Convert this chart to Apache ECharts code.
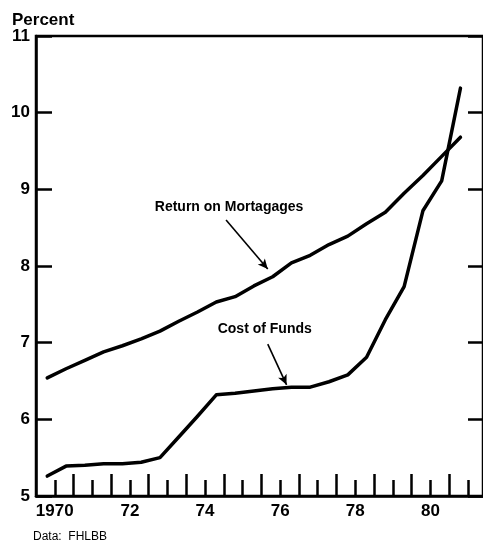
<!DOCTYPE html>
<html>
<head>
<meta charset="utf-8">
<script src="https://cdn.jsdelivr.net/npm/echarts@6/dist/echarts.min.js"></script>
<style>
  html, body { margin: 0; padding: 0; background: #fff; }
  #chart { width: 483px; height: 544px; }
</style>
</head>
<body>
<div id="chart"></div>
<script>
// =====================
// Data (semiannual)
// =====================
const periods = [
  1969.8, 1970.3, 1970.8, 1971.3, 1971.8, 1972.3, 1972.8, 1973.3,
  1973.8, 1974.3, 1974.8, 1975.3, 1975.8, 1976.3, 1976.8, 1977.3,
  1977.8, 1978.3, 1978.8, 1979.3, 1979.8, 1980.3, 1980.8
]
const returnOnMortgages = [
  6.54, 6.66, 6.77, 6.88, 6.96, 7.05, 7.15, 7.28,
  7.40, 7.53, 7.60, 7.74, 7.86, 8.04, 8.14, 8.28,
  8.39, 8.55, 8.70, 8.95, 9.18, 9.43, 9.68
]
const costOfFunds = [
  5.26, 5.39, 5.40, 5.42, 5.42, 5.44, 5.50, 5.77,
  6.04, 6.32, 6.34, 6.37, 6.40, 6.42, 6.42, 6.49,
  6.58, 6.81, 7.30, 7.73, 8.72, 9.11, 10.32
]

const yearLabels = [1970, 1972, 1974, 1976, 1978, 1980]
const yearTicks = [1970, 1971, 1972, 1973, 1974, 1975, 1976, 1977, 1978, 1979, 1980, 1981]
const halfYearTicks = [1970.5, 1971.5, 1972.5, 1973.5, 1974.5, 1975.5, 1976.5, 1977.5, 1978.5, 1979.5, 1980.5]

// annotation text + arrows, in data coords
const returnNote = { text: "Return on Mortagages", at: [1974.64, 8.77], from: [1974.56, 8.60], to: [1975.67, 7.96] }
const costNote = { text: "Cost of Funds", at: [1975.59, 7.17], from: [1975.67, 6.98], to: [1976.17, 6.45] }

const FONT = "'Liberation Sans', Arial, sans-serif"

function pairs(values) {
  return periods.map((p, i) => [p, values[i]])
}

function noteSeries(note) {
  return {
    markLine: {
      silent: true,
      symbol: ["none", "arrow"],
      symbolSize: [7, 10],
      lineStyle: { color: "#000", width: 1.6, type: "solid" },
      label: { show: false },
      emphasis: { disabled: true },
      data: [[{ coord: note.from }, { coord: note.to }]]
    },
    markPoint: {
      silent: true,
      symbol: "circle",
      symbolSize: 0,
      label: {
        show: true,
        position: "inside",
        color: "#000",
        fontFamily: FONT,
        fontWeight: "bold",
        fontSize: 14,
        formatter: note.text
      },
      data: [{ coord: note.at }]
    }
  }
}

const chart = echarts.init(document.getElementById("chart"))

const lineStyle = { color: "#000", width: 3.5, cap: "round", join: "round" }
const tickFont = { color: "#000", fontFamily: FONT, fontWeight: "bold", fontSize: 17 }

chart.setOption({
  animation: false,
  grid: {
    left: 36, top: 36, right: -4, bottom: 48,
    show: true,
    borderColor: "#000",
    borderWidth: 2.5,
    backgroundColor: "transparent"
  },
  xAxis: [
    {
      type: "value",
      position: "bottom",
      min: 1969.5, max: 1981.4,
      splitLine: { show: false },
      axisLine: { show: true, lineStyle: { color: "#000", width: 2.5 } },
      axisTick: {
        show: true, inside: true, length: 16,
        customValues: yearTicks,
        lineStyle: { color: "#000", width: 2.5 }
      },
      axisLabel: Object.assign({
        customValues: yearLabels,
        margin: 7,
        formatter: v => v === 1970 ? "1970" : String(v).slice(2)
      }, tickFont)
    },
    {
      type: "value",
      position: "bottom",
      min: 1969.5, max: 1981.4,
      splitLine: { show: false },
      axisLine: { show: false },
      axisTick: {
        show: true, inside: true, length: 22,
        customValues: halfYearTicks,
        lineStyle: { color: "#000", width: 2.5 }
      },
      axisLabel: { show: false }
    }
  ],
  yAxis: [
    {
      type: "value",
      position: "left",
      min: 5, max: 11, interval: 1,
      splitLine: { show: false },
      axisLine: { show: true, lineStyle: { color: "#000", width: 2.5 } },
      axisTick: { show: true, inside: true, length: 16, lineStyle: { color: "#000", width: 2.5 } },
      axisLabel: Object.assign({ margin: 6 }, tickFont)
    },
    {
      type: "value",
      position: "right",
      min: 5, max: 11, interval: 1,
      splitLine: { show: false },
      axisLine: { show: false },
      axisTick: { show: true, inside: true, length: 15, lineStyle: { color: "#000", width: 2.5 } },
      axisLabel: { show: false }
    }
  ],
  graphic: [
    {
      type: "text", left: 12, top: 12,
      style: { text: "Percent", fill: "#000", font: `bold 17px ${FONT}` }
    },
    {
      type: "text", left: 33, top: 531,
      style: { text: "Data:  FHLBB", fill: "#000", font: `12px ${FONT}` }
    }
  ],
  series: [
    Object.assign({
      name: "Return on Mortgages",
      type: "line",
      data: pairs(returnOnMortgages),
      showSymbol: false,
      symbol: "none",
      lineStyle: lineStyle,
      emphasis: { disabled: true }
    }, noteSeries(returnNote)),
    Object.assign({
      name: "Cost of Funds",
      type: "line",
      data: pairs(costOfFunds),
      showSymbol: false,
      symbol: "none",
      lineStyle: lineStyle,
      emphasis: { disabled: true }
    }, noteSeries(costNote))
  ]
})
</script>
</body>
</html>
